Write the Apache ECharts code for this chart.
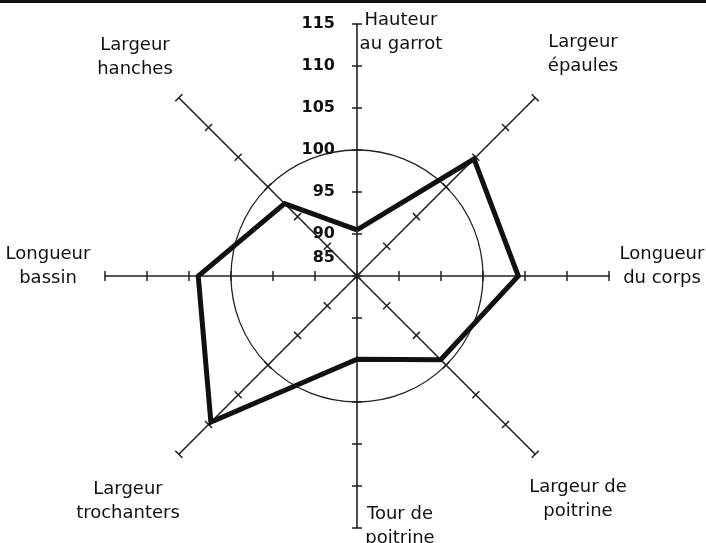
<!DOCTYPE html>
<html><head><meta charset="utf-8">
<script src="https://cdn.jsdelivr.net/npm/echarts@6/dist/echarts.min.js"></script>
<style>
html,body{margin:0;padding:0;background:#fff}
#c{width:706px;height:543px}
#bar{position:absolute;left:0;top:0;width:706px;height:3px;background:#111;z-index:10}
</style>
</head><body><div id="c"></div><div id="bar"></div>
<script>
// Categories in drawing order (ECharts radar goes counter-clockwise from the top)
const categories = ['Hauteur au garrot','Largeur hanches','Longueur bassin','Largeur trochanters','Tour de poitrine','Largeur de poitrine','Longueur du corps','Largeur épaules'];
const categoryLabels = ['Hauteur\nau garrot','Largeur\nhanches','Longueur\nbassin','Largeur\ntrochanters','Tour de\npoitrine','Largeur de\npoitrine','Longueur\ndu corps','Largeur\népaules'];
const values = [90.5, 97.2, 103.9, 109.6, 94.9, 99.1, 104.2, 104.7];
const tickLabels = [85, 90, 95, 100, 105, 110, 115];
const referenceRing = 100;

const scaleMin = tickLabels[0], scaleMax = tickLabels[tickLabels.length - 1];
const CX = 357, CY = 276, R = 252;
const FONT = '"DejaVu Sans", "Liberation Sans", Arial, sans-serif';
// label block centres (layout)
const namePos = [[401,32],[135,57],[48,266],[128,501],[400,526],[578,499],[662,266],[583,54]];

const ringIdx = tickLabels.indexOf(referenceRing);
const ringColors = tickLabels.map((t, i) => i === ringIdx ? '#222' : 'rgba(0,0,0,0)');

const labelOpt = {
  show: true, fontFamily: FONT, fontSize: 16, fontWeight: 'bold', color: '#111', margin: 22,
  formatter: v => v === scaleMin ? '{lo|' + v + '}' : String(v),
  rich: { lo: { padding: [0, 0, 36, 0], fontFamily: FONT, fontSize: 16, fontWeight: 'bold', color: '#111' } }
};

const indicator0 = categories.map((n, i) => {
  const o = { name: n, min: scaleMin, max: scaleMax };
  if (i === 0) o.axisLabel = labelOpt;
  return o;
});
const indicator1 = categories.map(n => ({ name: n, min: scaleMin, max: scaleMax }));

const chart = echarts.init(document.getElementById('c'), null, { renderer: 'canvas' });
chart.setOption({
  animation: false,
  backgroundColor: '#fff',
  radar: [{
    center: [CX, CY], radius: R, startAngle: 90, shape: 'circle', splitNumber: tickLabels.length - 1,
    indicator: indicator0,
    axisName: { show: false },
    axisLine: { show: true, lineStyle: { color: '#222', width: 1.6 } },
    axisTick: { show: true, length: 5, lineStyle: { color: '#222', width: 1.5 } },
    axisLabel: { show: false },
    splitLine: { show: true, lineStyle: { color: ringColors, width: 1.3 } },
    splitArea: { show: false }
  }, {
    center: [CX, CY], radius: R, startAngle: 90, shape: 'circle', splitNumber: tickLabels.length - 1,
    indicator: indicator1,
    axisName: { show: false },
    axisLine: { show: false },
    axisTick: { show: true, length: -5, lineStyle: { color: '#222', width: 1.5 } },
    axisLabel: { show: false },
    splitLine: { show: false },
    splitArea: { show: false }
  }],
  series: [{
    type: 'radar', radarIndex: 0, symbol: 'none', silent: true,
    lineStyle: { color: '#111', width: 5, join: 'miter' },
    data: [{ value: values, name: 'Mesures' }]
  }],
  graphic: categoryLabels.map((t, i) => ({
    type: 'text', silent: true,
    style: { text: t, x: namePos[i][0], y: namePos[i][1], align: 'center', verticalAlign: 'middle',
      font: '18px ' + FONT, lineHeight: 24, fill: '#111' }
  }))
});
</script></body></html>
